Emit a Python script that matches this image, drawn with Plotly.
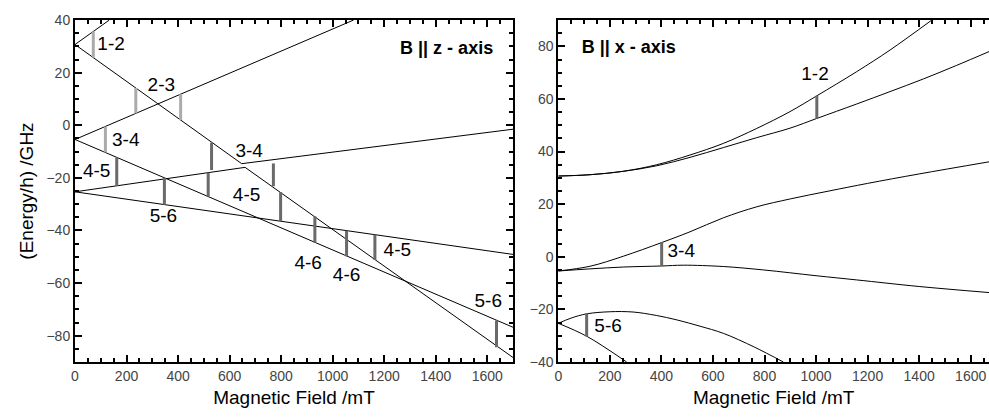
import plotly.graph_objects as go

# ---------------- Left panel: B || z-axis (energy levels, GHz vs mT) ----------------
z_L1_B = [0, 133]
z_L1_E = [30.7, 40]
z_up_B = [0, 647, 1700]          # upper branch of avoided crossing
z_up_E = [30.7, -14.6, -1.5]
z_lo_B = [0, 660, 1700]          # lower branch of avoided crossing
z_lo_E = [-25.3, -16.0, -88.3]
z_L3_B = [0, 1081]
z_L3_E = [-5.4, 40]
z_L4_B = [0, 1700]
z_L4_E = [-5.4, -76.8]
z_L6_B = [0, 1700]
z_L6_E = [-25.3, -49.1]

# transitions (vertical bars)
z_bar_B = [71, 236, 410, 118, 162, 347, 530, 517, 770, 798, 931, 1054, 1164, 1636]
z_bar_lo = [25.7, 4.5, 2.0, -10.3, -23.0, -30.2, -17.0, -27.1, -23.2, -36.5, -44.7, -49.8, -51.2, -84.4]
z_bar_hi = [35.7, 14.2, 11.8, -0.5, -12.2, -20.0, -6.6, -18.0, -14.5, -25.4, -34.6, -40.1, -41.6, -74.2]
z_bar_shade = ["light", "light", "light", "light", "dark", "dark", "dark", "dark",
               "dark", "dark", "dark", "dark", "dark", "dark"]

z_lab_text = ["1-2", "2-3", "3-4", "4-5", "3-4", "4-5", "5-6", "4-6", "4-6", "4-5", "5-6"]
z_lab_B = [140, 335, 197, 84, 676, 666, 343, 905, 1054, 1251, 1604]
z_lab_E = [30.3, 15.0, -5.9, -18.0, -10.4, -26.8, -34.8, -52.8, -57.5, -47.8, -67.1]

# ---------------- Right panel: B || x-axis ----------------
x_C1_B = [0, 123, 252, 382, 511, 640, 770, 899, 1003, 1158, 1287, 1449]
x_C1_E = [30.7, 31.2, 32.5, 35.0, 38.7, 43.1, 48.8, 55.2, 61.2, 70.4, 78.6, 90.0]
x_C2_B = [0, 123, 252, 382, 511, 640, 770, 899, 1003, 1158, 1287, 1416, 1546, 1671]
x_C2_E = [30.7, 31.2, 32.5, 34.6, 37.8, 41.5, 45.3, 48.9, 52.6, 58.1, 62.8, 67.6, 72.8, 78.0]
x_C3_B = [0, 123, 252, 401, 511, 640, 770, 900, 1050, 1200, 1400, 1671]
x_C3_E = [-5.4, -3.6, 0.2, 5.4, 9.5, 14.8, 19.0, 22.0, 25.0, 27.9, 31.5, 36.1]
x_C4_B = [0, 123, 252, 401, 485, 640, 796, 1000, 1158, 1400, 1671]
x_C4_E = [-5.4, -4.6, -3.9, -3.5, -3.2, -3.7, -5.0, -7.2, -8.8, -11.3, -13.6]
x_C5_B = [0, 50, 110, 200, 290, 380, 460, 550, 640, 760, 873]
x_C5_E = [-25.3, -23.3, -21.7, -20.9, -21.0, -22.3, -24.0, -26.4, -29.1, -34.3, -40.0]
x_C6_B = [0, 110, 265]
x_C6_E = [-25.3, -30.2, -40.0]

x_bar_B = [1003, 401, 110]
x_bar_lo = [52.6, -3.6, -30.3]
x_bar_hi = [61.2, 5.4, -21.6]

x_lab_text = ["1-2", "3-4", "5-6"]
x_lab_B = [996, 477, 193]
x_lab_E = [69.1, 1.6, -26.7]

FONT = "Liberation Sans, Arial, sans-serif"
BAR_COL = {"light": "#ababab", "dark": "#6a6a6a"}

fig = go.Figure()

for xs, ys in [(z_L1_B, z_L1_E), (z_up_B, z_up_E), (z_lo_B, z_lo_E),
               (z_L3_B, z_L3_E), (z_L4_B, z_L4_E), (z_L6_B, z_L6_E)]:
    fig.add_trace(go.Scatter(x=xs, y=ys, mode="lines", line=dict(color="black", width=1),
                             showlegend=False))

for xs, ys in [(x_C1_B, x_C1_E), (x_C2_B, x_C2_E), (x_C3_B, x_C3_E),
               (x_C4_B, x_C4_E), (x_C5_B, x_C5_E), (x_C6_B, x_C6_E)]:
    fig.add_trace(go.Scatter(x=xs, y=ys, mode="lines", xaxis="x2", yaxis="y2",
                             line=dict(color="black", width=1, shape="spline"),
                             showlegend=False))

def bars(Bs, los, his, color, xa="x", ya="y"):
    xs, ys = [], []
    for b, lo, hi in zip(Bs, los, his):
        xs += [b, b, None]
        ys += [lo, hi, None]
    fig.add_trace(go.Scatter(x=xs, y=ys, mode="lines", xaxis=xa, yaxis=ya,
                             line=dict(color=color, width=3), showlegend=False))

for shade in ["light", "dark"]:
    idx = [i for i, s in enumerate(z_bar_shade) if s == shade]
    bars([z_bar_B[i] for i in idx], [z_bar_lo[i] for i in idx],
         [z_bar_hi[i] for i in idx], BAR_COL[shade])
bars(x_bar_B, x_bar_lo, x_bar_hi, BAR_COL["dark"], "x2", "y2")

# transition labels and panel titles as text traces
lab_font = dict(family=FONT, size=19, color="black")
fig.add_trace(go.Scatter(x=z_lab_B, y=z_lab_E, text=z_lab_text, mode="text",
                         textposition="middle center", textfont=lab_font,
                         showlegend=False, cliponaxis=False))
fig.add_trace(go.Scatter(x=x_lab_B, y=x_lab_E, text=x_lab_text, mode="text",
                         xaxis="x2", yaxis="y2", textposition="middle center",
                         textfont=lab_font, showlegend=False, cliponaxis=False))
title_font = dict(family=FONT, size=18, color="black")
fig.add_trace(go.Scatter(x=[1623], y=[28.9], text=["<b>B || z - axis</b>"], mode="text",
                         textposition="middle left", textfont=title_font,
                         showlegend=False, cliponaxis=False))
fig.add_trace(go.Scatter(x=[91], y=[79.2], text=["<b>B || x - axis</b>"], mode="text",
                         xaxis="x2", yaxis="y2", textposition="middle right",
                         textfont=title_font, showlegend=False, cliponaxis=False))

tickfont = dict(family=FONT, size=14, color="#444444")
axtitle_font = dict(family=FONT, size=19, color="black")

def axis_style(mirror, minor_dtick):
    return dict(showline=True, linecolor="black", linewidth=2, mirror=mirror,
                ticks="inside", ticklen=7, tickwidth=2, tickcolor="black",
                showgrid=False, zeroline=False, tickfont=tickfont,
                minor=dict(ticks="inside", ticklen=4, tickwidth=2, tickcolor="black",
                           dtick=minor_dtick, tick0=0, showgrid=False))

ydom = [0.134, 0.952]

fig.update_layout(
    template="none",
    width=989, height=418, margin=dict(l=0, r=0, t=0, b=0),
    xaxis=dict(domain=[75 / 989, 513 / 989], range=[0, 1700], dtick=200, tick0=0,
               title=dict(text="Magnetic Field /mT", font=axtitle_font, standoff=8),
               **axis_style("ticks", 50)),
    yaxis=dict(domain=ydom, range=[-90, 40], dtick=20, tick0=0,
               title=dict(text="(Energy/h) /GHz", font=axtitle_font, standoff=8),
               **axis_style("ticks", 5)),
    xaxis2=dict(domain=[558.3 / 989, 1.0], range=[0, 1671], anchor="y2", dtick=200, tick0=0,
                title=dict(text="Magnetic Field /mT", font=axtitle_font, standoff=8),
                **axis_style("ticks", 50)),
    yaxis2=dict(domain=ydom, range=[-40, 90], anchor="x2", dtick=20, tick0=0,
                **axis_style(False, 5)),
)

fig.write_html("out.html")
